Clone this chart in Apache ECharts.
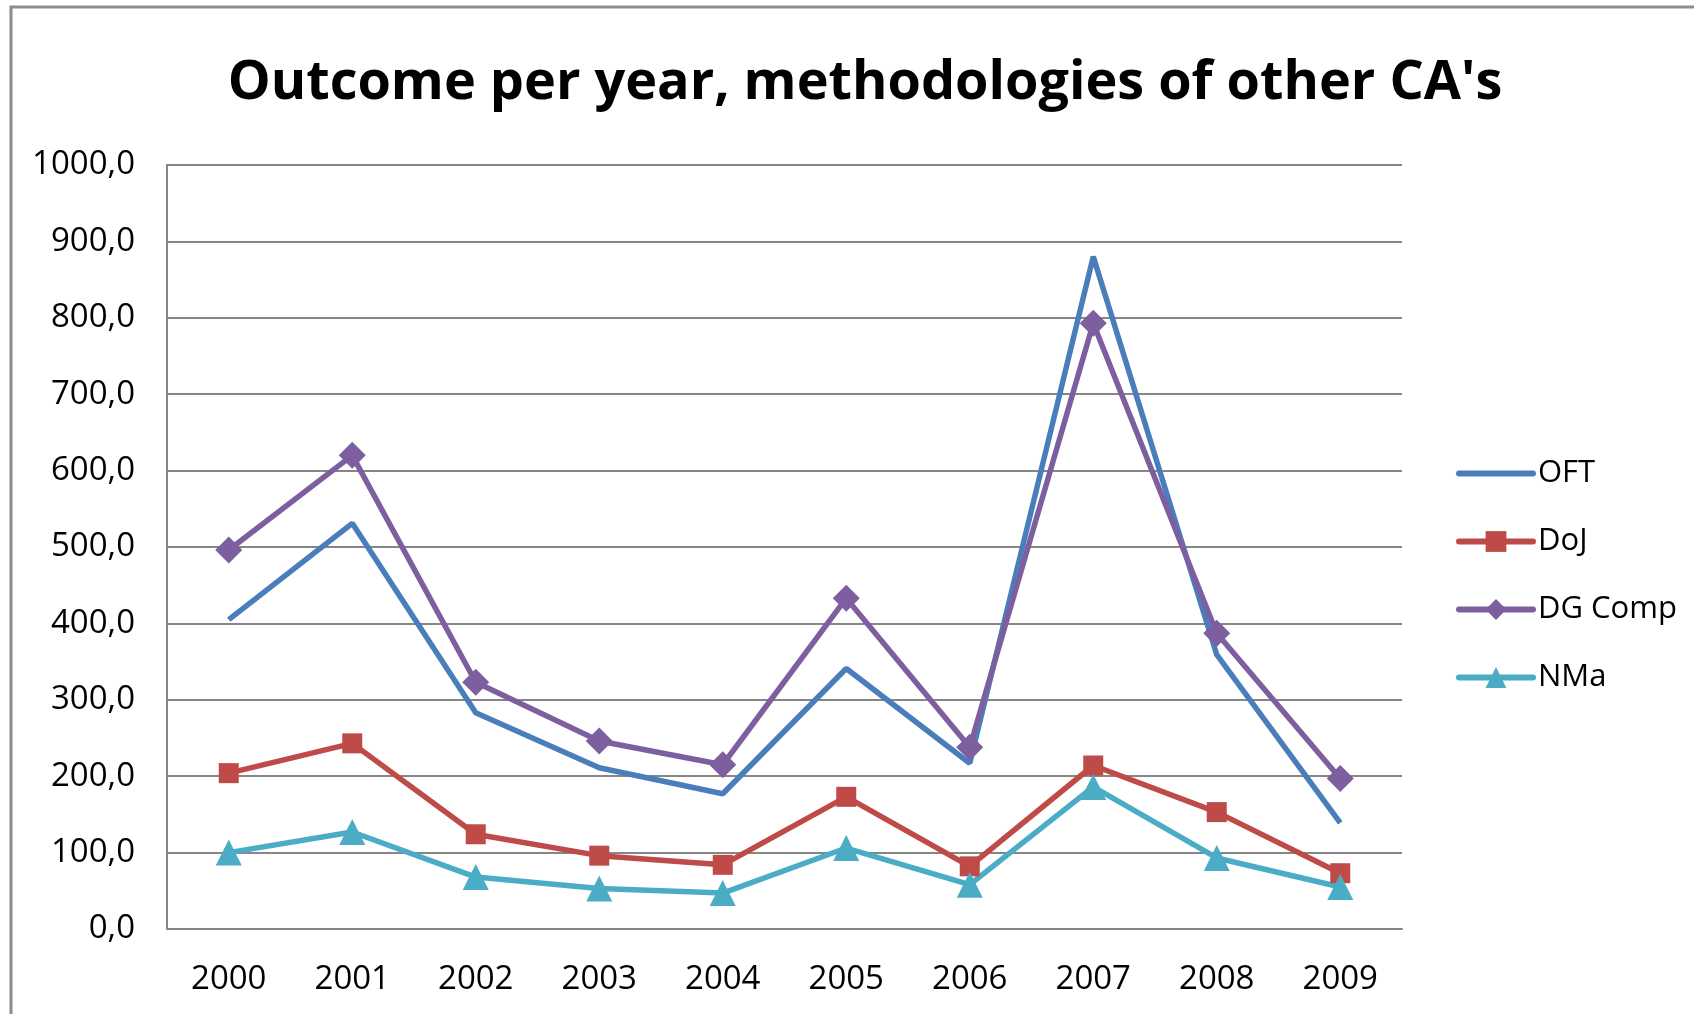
<!DOCTYPE html>
<html>
<head>
<meta charset="utf-8">
<script src="https://cdn.jsdelivr.net/npm/echarts@6/dist/echarts.min.js"></script>
<style>
  html, body { margin: 0; padding: 0; background: #ffffff; }
  #chart { width: 1694px; height: 1014px; }
</style>
</head>
<body>
<div id="chart"></div>
<script>
// Outcome per year by competition authority methodology
const years = ['2000', '2001', '2002', '2003', '2004', '2005', '2006', '2007', '2008', '2009'];
const oft    = [405, 531, 283, 211, 177, 341, 217, 880, 359, 139];
const doj    = [204, 243, 124, 96, 84, 173, 82, 214, 153, 73];
const dgComp = [496, 620, 323, 246, 215, 433, 238, 793, 387, 197];
const nma    = [100, 127, 68, 53, 47, 106, 58, 186, 93, 55];

const FONT = '"Open Sans", "Noto Sans", sans-serif';

const chart = echarts.init(document.getElementById('chart'), null, { renderer: 'canvas' });

function lineSeries(name, data, color, symbol, size) {
  return {
    name: name,
    type: 'line',
    data: data,
    symbol: symbol,
    symbolSize: size,
    showSymbol: symbol !== 'none',
    lineStyle: { color: color, width: 5.5 },
    // a line without markers keeps a transparent marker colour so its legend shows only the line
    itemStyle: { color: symbol === 'none' ? 'transparent' : color },
    emphasis: { disabled: true },
    animation: false
  };
}

chart.setOption({
  backgroundColor: '#ffffff',
  graphic: [{
    type: 'rect',
    shape: { x: 11, y: 7, width: 1720, height: 1060 },
    style: { fill: 'none', stroke: '#8c8c8c', lineWidth: 3 },
    silent: true
  }],
  title: {
    text: "Outcome per year, methodologies of other CA's",
    left: 860,
    textAlign: 'center',
    top: 52,
    textStyle: { fontFamily: FONT, fontSize: 54, fontWeight: 'bold', color: '#000000' }
  },
  legend: {
    orient: 'vertical',
    left: 1451,
    top: 453,
    itemWidth: 74,
    itemHeight: 26,
    itemGap: 37,
    selectedMode: false,
    lineStyle: { width: 6, cap: 'round' },
    textStyle: { fontFamily: FONT, fontSize: 31, lineHeight: 31, color: '#000000' },
    data: ['OFT', 'DoJ', 'DG Comp', 'NMa']
  },
  grid: { left: 167, top: 165, right: 292, bottom: 85, containLabel: false },
  xAxis: {
    type: 'category',
    data: years,
    boundaryGap: true,
    axisLine: { lineStyle: { color: '#868686', width: 2 } },
    axisTick: { show: false },
    axisLabel: { fontFamily: FONT, fontSize: 33, color: '#000000', margin: 34 }
  },
  yAxis: {
    type: 'value',
    min: 0,
    max: 1000,
    interval: 100,
    axisLine: { show: true, lineStyle: { color: '#868686', width: 2 } },
    axisTick: { show: false },
    splitLine: { lineStyle: { color: '#868686', width: 2 } },
    axisLabel: {
      fontFamily: FONT, fontSize: 33, color: '#000000', margin: 32,
      formatter: v => v.toFixed(1).replace('.', ',')
    }
  },
  series: [
    lineSeries('OFT', oft, '#4a7ebb', 'none', 0),
    lineSeries('DoJ', doj, '#be4b48', 'rect', 20),
    lineSeries('DG Comp', dgComp, '#7d5fa0', 'diamond', 27),
    lineSeries('NMa', nma, '#4bacc6', 'triangle', 26)
  ]
});
</script>
</body>
</html>
